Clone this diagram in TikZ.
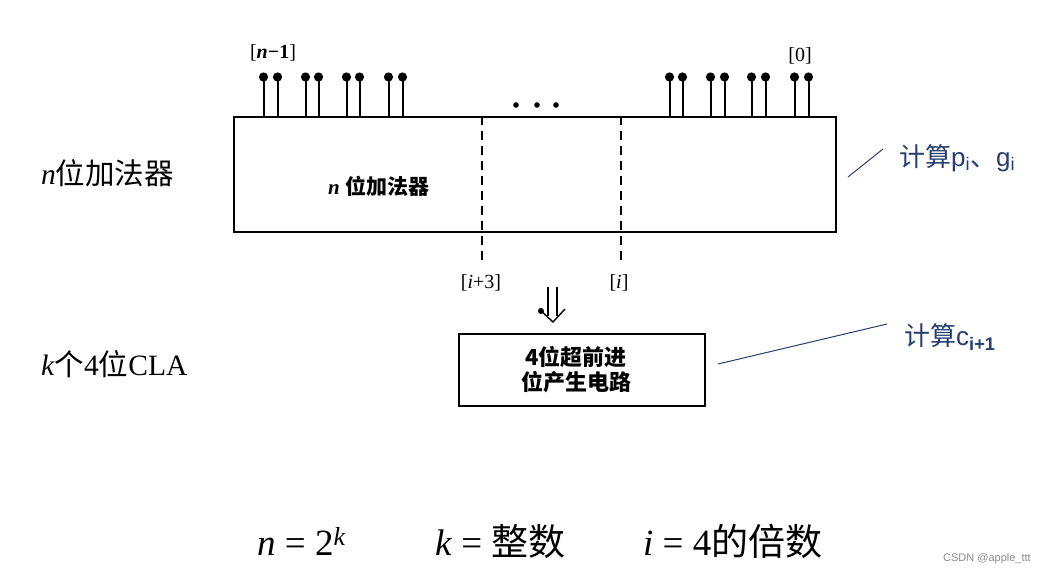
\documentclass[tikz,border=0pt]{standalone}
\usepackage{fontspec}
\setmainfont{Liberation Serif}
\newfontfamily\cjk{Noto Sans CJK SC}
\newfontfamily\asans{Liberation Sans}
\definecolor{annot}{RGB}{38,62,112}
\tikzset{
  blockbox/.style={draw, line width=1.6pt, inner sep=0pt, anchor=north west},
  pin/.style={line width=2pt},
  dashline/.style={line width=1.3pt, dash pattern=on 9pt off 6pt},
  annotline/.style={draw=annot, line width=1pt},
  annottext/.style={text=annot, anchor=west, inner sep=0pt, font=\fontsize{26}{30}\selectfont},
  idx/.style={inner sep=0pt, font=\fontsize{20}{24}\selectfont},
  sidelabel/.style={anchor=west, inner sep=0pt, font=\fontsize{29.5}{33}\selectfont},
  formula/.style={anchor=base west, inner sep=0pt, font=\fontsize{37}{41}\selectfont}
}
\begin{document}
\begin{tikzpicture}[x=1pt,y=-1pt]
\useasboundingbox[fill=white] (0,0) rectangle (1044,575);

% main adder box
\node[blockbox, minimum width=602pt, minimum height=115pt] (adder) at (233,116) {};
\node[anchor=west, inner sep=0pt, font=\fontsize{21}{25}\selectfont] (adderlbl) at (328,186)
  {\textbf{\textit{n}}\ {\cjk\bfseries 位加法器}};

% pins
\foreach \px in {263.5,277.5,305.5,318.5,346.5,359.5,388.5,402.5,669.5,682.5,710.5,724.5,751.5,765.5,794.5,808.5}{
  \draw[pin] (\px,116) -- (\px,77);
  \fill (\px,77) circle (4.6pt);
}
% ellipsis dots
\foreach \px in {516,537,556}{ \fill (\px,105) circle (2.8pt); }

% index labels
\node[idx] (lnm1) at (273,53) {[\textbf{\textit{n}}\textbf{−1}]};
\node[idx] (l0) at (800,56) {[0]};

% dashed lines
\coordinate (da1) at (482,116);
\coordinate (da2) at (482,264);
\coordinate (db1) at (621,116);
\coordinate (db2) at (621,264);
\draw[dashline] (da1) -- (da2);
\draw[dashline] (db1) -- (db2);
\node[idx] (li3) at (481,283) {[\textit{i}+3]};
\node[idx] (li) at (619,283) {[\textit{i}]};

% double down arrow
\draw[line width=1.4pt] (548,287) -- (548,316);
\draw[line width=1.4pt] (557,287) -- (557,316);
\draw[line width=1.4pt] (539,309) -- (553,322) -- (565,309);
\fill (541,311) circle (3pt);

% CLA box
\node[blockbox, minimum width=246pt, minimum height=72pt] (cla) at (458,333) {};
\node[align=center, inner sep=0pt, font=\cjk\bfseries\fontsize{22}{25}\selectfont] (clalbl) at (576,370)
  {4位超前进\\位产生电路};

% side labels
\node[sidelabel] (sl1) at (41,173) {\textit{n}{\cjk 位加法器}};
\node[sidelabel] (sl2) at (41,364) {\textit{k}{\cjk 个}4{\cjk 位}CLA};

% annotations
\node[annottext] (pg) at (899,158) {{\cjk 计算}\asans p\textsubscript{i}{\cjk 、}g\textsubscript{i}};
\coordinate (pgA) at (848,177);
\coordinate (pgB) at (883,149);
\draw[annotline] (pgA) -- (pgB);

\node[annottext] (ci) at (904,337) {{\cjk 计算}\asans c\textsubscript{\textbf{i+1}}};
\coordinate (ciA) at (718,364);
\coordinate (ciB) at (887,324);
\draw[annotline] (ciA) -- (ciB);

% formula
\node[formula] (f1) at (257,555) {\textit{n} = 2\textsuperscript{\textit{k}}};
\node[formula] (f2) at (435,555) {\textit{k} = {\cjk 整数}};
\node[formula] (f3) at (643,555) {\textit{i} = 4{\cjk 的倍数}};

% watermark
\node[anchor=base west, inner sep=0pt, text=black!45, font=\asans\fontsize{11}{13}\selectfont] (wm) at (943,561) {CSDN @apple\_ttt};
\end{tikzpicture}
\end{document}
